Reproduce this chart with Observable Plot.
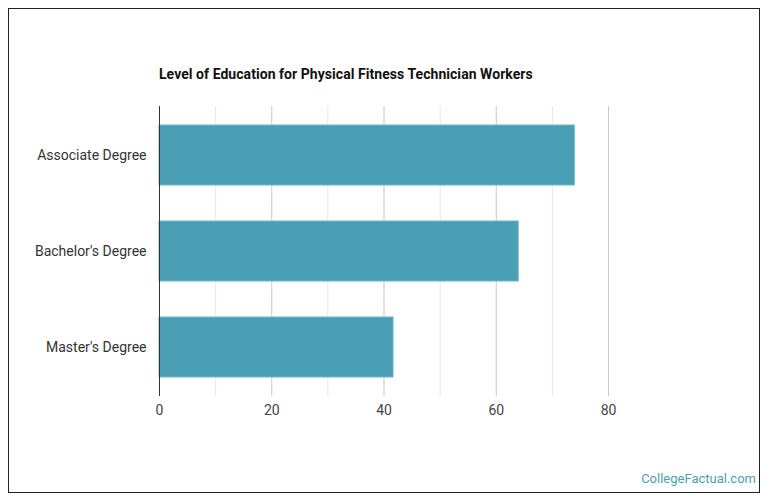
<!DOCTYPE html>
<html>
<head>
<meta charset="utf-8">
<script src="https://cdn.jsdelivr.net/npm/d3@7"></script>
<script src="https://cdn.jsdelivr.net/npm/@observablehq/plot@0.6"></script>
<style>
  html, body { margin: 0; padding: 0; background: #fff; }
  body { width: 770px; height: 503px; position: relative; overflow: hidden; font-family: Roboto, "Noto Sans", sans-serif; }
  #frame { position: absolute; left: 8px; top: 8px; width: 750px; height: 483px; border: 1px solid #222; }
  #title { position: absolute; left: 159px; top: 66px; font-size: 14px; font-weight: bold; color: #111; white-space: nowrap; letter-spacing: 0.05px; }
  #chart { position: absolute; left: 0; top: 0; }
  #credit { position: absolute; right: 14px; top: 471px; font-size: 13px; color: #4a9fb5; }
</style>
</head>
<body>
<div id="frame"></div>
<div id="title">Level of Education for Physical Fitness Technician Workers</div>
<div id="chart"></div>
<div id="credit">CollegeFactual.com</div>
<script>
const categories = ["Associate Degree", "Bachelor's Degree", "Master's Degree"];
const values = [74, 64, 41.7];
const majorTicks = [0, 20, 40, 60, 80];
const minorTicks = [10, 30, 50, 70];

const data = categories.map((c, i) => ({category: c, value: values[i]}));

const chart = Plot.plot({
  width: 770,
  height: 436,
  marginLeft: 159,
  marginRight: 162,
  marginTop: 106,
  marginBottom: 40,
  style: {fontFamily: "Roboto, sans-serif", fontSize: "14px", color: "#444", background: "transparent"},
  x: {domain: [0, 80], ticks: majorTicks, tickSize: 0, tickPadding: 9, label: null},
  y: {domain: categories, paddingInner: 0.38, paddingOuter: 0.19, tickSize: 0, tickPadding: 13, label: null},
  marks: [
    Plot.ruleX(minorTicks, {stroke: "#e6e6e6", strokeWidth: 1}),
    Plot.ruleX(majorTicks.filter(d => d !== 0), {stroke: "#c8c8c8", strokeWidth: 1}),
    Plot.barX(data, {x: "value", y: "category", fill: "#4a9fb4", stroke: "#6fb7c8", strokeWidth: 1}),
    Plot.ruleX([0], {stroke: "#333", strokeWidth: 1}),
    Plot.axisX({ticks: majorTicks, tickSize: 0, tickPadding: 9, fill: "#444"}),
    Plot.axisY({tickSize: 0, tickPadding: 13, fill: "#333"})
  ]
});
document.getElementById("chart").appendChild(chart);
</script>
</body>
</html>
